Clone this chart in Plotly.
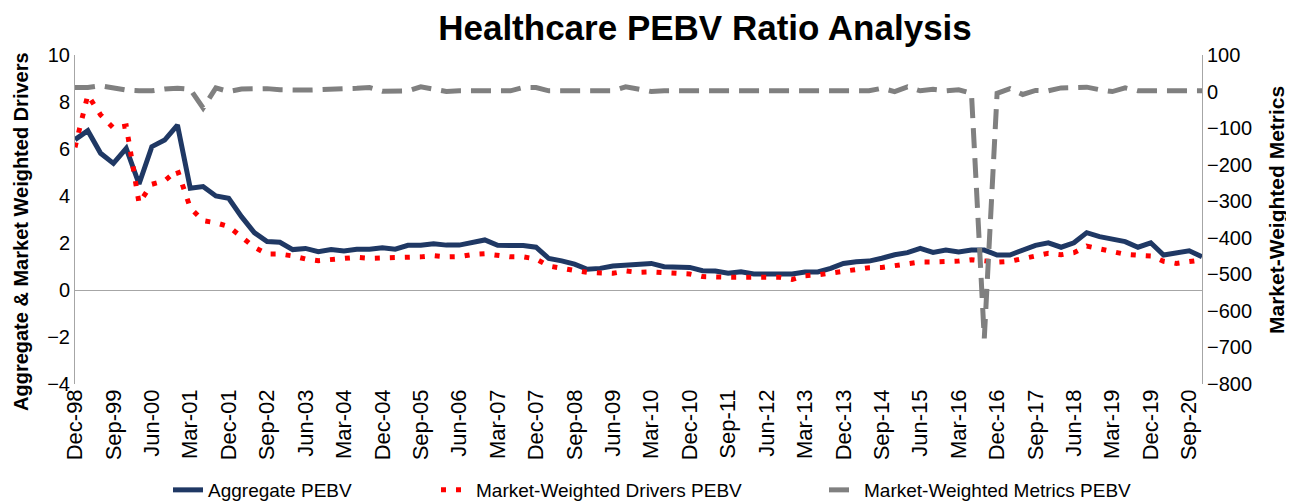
import plotly.graph_objects as go

# Quarter labels Dec-98 ... Dec-20
months = ["Mar", "Jun", "Sep", "Dec"]
quarters = ["Dec-98"]
for yr in range(1999, 2021):
    for m in months:
        quarters.append(f"{m}-{yr % 100:02d}")

aggregate_pebv = [
    6.40, 6.78, 5.82, 5.39, 6.03, 4.51, 6.10, 6.38, 7.02, 4.33,
    4.40, 4.00, 3.90, 3.12, 2.44, 2.06, 2.03, 1.72, 1.77, 1.63,
    1.72, 1.66, 1.73, 1.73, 1.80, 1.74, 1.90, 1.90, 1.97, 1.91,
    1.91, 2.04, 2.13, 1.90, 1.89, 1.89, 1.82, 1.34, 1.24, 1.10,
    0.88, 0.92, 1.02, 1.05, 1.11, 1.13, 0.99, 0.96, 0.96, 0.82,
    0.81, 0.71, 0.78, 0.68, 0.68, 0.68, 0.68, 0.77, 0.77, 0.92,
    1.13, 1.20, 1.23, 1.35, 1.50, 1.59, 1.77, 1.60, 1.70, 1.62,
    1.70, 1.70, 1.49, 1.49, 1.70, 1.90, 2.01, 1.82, 2.01, 2.44,
    2.27, 2.17, 2.06, 1.82, 2.01, 1.49, 1.56, 1.67, 1.42,
]

drivers_pebv = [
    6.07, 8.30, 7.45, 6.89, 6.98, 3.70, 4.50, 4.65, 5.10, 3.50,
    2.95, 2.86, 2.70, 2.27, 1.82, 1.53, 1.53, 1.45, 1.32, 1.25,
    1.28, 1.32, 1.39, 1.35, 1.36, 1.38, 1.39, 1.41, 1.46, 1.41,
    1.42, 1.51, 1.54, 1.45, 1.41, 1.41, 1.32, 1.02, 0.91, 0.83,
    0.75, 0.71, 0.71, 0.81, 0.75, 0.77, 0.75, 0.71, 0.68, 0.57,
    0.54, 0.54, 0.54, 0.54, 0.54, 0.54, 0.45, 0.61, 0.64, 0.71,
    0.81, 0.88, 0.95, 0.96, 1.05, 1.15, 1.19, 1.19, 1.19, 1.23,
    1.29, 1.25, 1.19, 1.22, 1.35, 1.45, 1.56, 1.50, 1.59, 1.87,
    1.76, 1.62, 1.52, 1.48, 1.45, 1.22, 1.13, 1.21, 1.28,
]

metrics_pebv = [
    11, 11, 16, 10, 4, 2, 2, 7, 9, 6,
    -45, 10, 0, 7, 8, 8, 5, 3, 4, 5,
    8, 8, 9, 11, 1, 2, 2, 13, 6, 0,
    2, 2, 2, 2, 2, 11, 11, 2, 2, 2,
    2, 2, 2, 13, 8, 0, 2, 2, 2, 2,
    2, 2, 2, 2, 2, 2, 2, 2, 2, 2,
    2, 2, 2, 9, 0, 13, 2, 6, 2, 5,
    -5, -675, -5, 8, -8, 3, 2, 10, 12, 12,
    5, 0, 10, 2, 2, 2, 2, 2, 2,
]

x_idx = list(range(len(quarters)))
tick_idx = x_idx[::3]
tick_txt = quarters[::3]

FONT = "Liberation Sans, Arial, sans-serif"
# the page places the figure 8px in from the top-left corner
W, H = 1286, 495
L, R, T, B = 67, 92, 47, 119
PW, PH = W - L - R, H - T - B

fig = go.Figure()
fig.add_trace(go.Scatter(
    x=x_idx, y=aggregate_pebv, name="Aggregate PEBV", mode="lines",
    line=dict(color="#1F3864", width=5), legend="legend", showlegend=True))
fig.add_trace(go.Scatter(
    x=x_idx, y=drivers_pebv, name="Market-Weighted Drivers PEBV", mode="lines",
    line=dict(color="#FF0000", width=5, dash="5px,10px"), legend="legend2", showlegend=True))
fig.add_trace(go.Scatter(
    x=x_idx, y=metrics_pebv, name="Market-Weighted Metrics PEBV", mode="lines",
    line=dict(color="#808080", width=5, dash="20px,10px"), yaxis="y2",
    legend="legend3", showlegend=True))

leg_common = dict(orientation="h", yanchor="middle", y=(H - 482) / H, xanchor="left",
                  xref="container", yref="container",
                  font=dict(family=FONT, size=19, color="black"),
                  bgcolor="rgba(0,0,0,0)", visible=True)

fig.update_layout(
    width=W, height=H,
    showlegend=True,
    margin=dict(l=L, r=R, t=T, b=B, autoexpand=False),
    paper_bgcolor="white", plot_bgcolor="white",
    font=dict(family=FONT, size=20, color="black"),
    title=dict(text="<b>Healthcare PEBV Ratio Analysis</b>", x=697 / W, xanchor="center",
               y=1 - 20 / H, yanchor="middle", yref="container",
               font=dict(family=FONT, size=35, color="black")),
    xaxis=dict(range=[0, len(quarters) - 1], tickmode="array", tickvals=tick_idx,
               ticktext=tick_txt, tickangle=-90, showline=False, showgrid=False,
               zeroline=False, ticks="", tickfont=dict(size=22), automargin=False),
    yaxis=dict(range=[-4, 10], dtick=2, showgrid=False, showline=True,
               linecolor="#A6A6A6", linewidth=1, zeroline=True,
               zerolinecolor="#A6A6A6", zerolinewidth=1, ticks="",
               tickfont=dict(size=20), automargin=False),
    yaxis2=dict(range=[-800, 100], dtick=100, overlaying="y", side="right",
                showgrid=False, showline=True, linecolor="#A6A6A6", linewidth=1,
                zeroline=False, ticks="", tickfont=dict(size=20), automargin=False),
    legend=dict(x=160 / W, **leg_common),
    legend2=dict(x=428 / W, **leg_common),
    legend3=dict(x=816 / W, **leg_common),
    annotations=[
        dict(text="<b>Aggregate & Market Weighted Drivers</b>", textangle=-90,
             xref="paper", yref="paper", x=(13 - L) / PW, y=(H - B - 224) / PH,
             xanchor="center", yanchor="middle", showarrow=False,
             font=dict(family=FONT, size=20, color="black")),
        dict(text="<b>Market-Weighted Metrics</b>", textangle=-90,
             xref="paper", yref="paper", x=(1268 - L) / PW, y=(H - B - 202) / PH,
             xanchor="center", yanchor="middle", showarrow=False,
             font=dict(family=FONT, size=21, color="black")),
    ],
)

fig.write_html("out.html")
